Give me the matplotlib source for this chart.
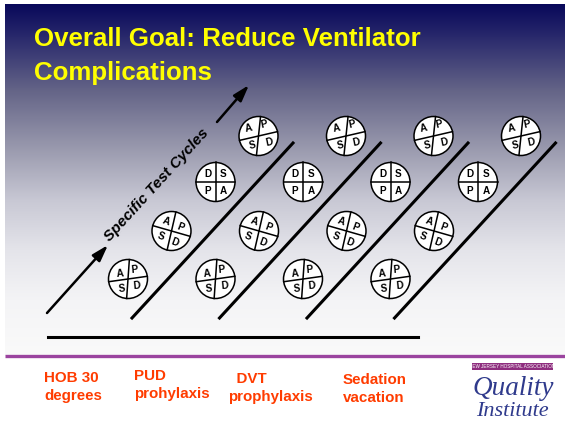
import numpy as np
import matplotlib
matplotlib.use("Agg")
import matplotlib.pyplot as plt
from matplotlib.patches import Circle, Rectangle

# text content
title_lines = ["Overall Goal: Reduce Ventilator", "Complications"]
side_label = "Specific Test Cycles"
interventions = [["HOB 30", "degrees"], ["PUD", "prohylaxis"],
                 ["  DVT", "prophylaxis"], ["Sedation", "vacation"]]
logo_banner = "NEW JERSEY HOSPITAL ASSOCIATION"
logo_words = ["Quality", "Institute"]

# PDSA circles: letters per style, and the style of the 4 circles
# in each column (bottom -> top)
apsd = ["A", "P", "S", "D"]
dspa = ["D", "S", "P", "A"]
column_styles = ["low", "tilt", "flat", "top"]
n_columns = 4

# background gradient key points (y in px, grey level r=g, blue)
grad_y = [4, 40, 90, 150, 200, 250, 300, 356]
grad_rg = [8, 45, 100, 155, 200, 228, 244, 250]
grad_b = [90, 110, 135, 175, 212, 234, 246, 250]

W, H = 565, 423
fig = plt.figure(figsize=(W / 100, H / 100), dpi=100)
ax = fig.add_axes([0, 0, 1, 1])
ax.set_xlim(0, W)
ax.set_ylim(H, 0)
ax.axis("off")

# gradient backdrop
yy = np.arange(grad_y[0], grad_y[-1] + 1)
rg = np.interp(yy, grad_y, grad_rg)
bb = np.interp(yy, grad_y, grad_b)
img = np.stack([rg, rg, bb], axis=1)[:, None, :] / 255.0
ax.imshow(img, extent=[5, W, grad_y[-1], grad_y[0]], aspect="auto",
          interpolation="bilinear", zorder=0)

# title
for i, line in enumerate(title_lines):
    ax.text(34, 46 + 34 * i, line, color="#ffff00", fontsize=18.6,
            fontweight="bold", family="Liberation Sans", va="baseline")

# separator lines
ax.plot([5, W], [356, 356], color="#9b449f", lw=2.4, solid_capstyle="butt")
ax.plot([48, 418], [337, 337], color="black", lw=2.2)

# diagonal lanes
for i in range(n_columns):
    dx = 87.5 * i
    ax.plot([132 + dx, 293 + dx], [318, 143], color="black", lw=2.2)

# left arrows and label
arrow = dict(arrowstyle="-|>,head_length=0.7,head_width=0.22",
             color="black", lw=1.8, mutation_scale=14, shrinkA=0, shrinkB=0)
ax.annotate("", xy=(108, 245), xytext=(47, 313), arrowprops=arrow)
ax.annotate("", xy=(249, 85), xytext=(217, 122), arrowprops=arrow)
ax.text(157, 185, side_label, rotation=47.5, rotation_mode="anchor",
        ha="center", va="center", fontsize=11, fontweight="bold",
        fontstyle="italic", family="Liberation Sans")

# circle styles: divider tilts, letter offsets, letter rotation
styles = {
    "low": dict(letters=apsd, tv=4, th=8, rot=5,
                off=[(-8, -5.7), (6.3, -9), (-6.3, 9.3), (8.7, 6.7)]),
    "tilt": dict(letters=apsd, tv=13, th=-16, rot=-20,
                 off=[(-5, -9.7), (9.3, -3.7), (-10.7, 5.7), (3.3, 11.3)]),
    "flat": dict(letters=dspa, tv=0, th=0, rot=0,
                 off=[(-8, -8), (8, -8), (-8, 8.5), (8, 8.5)]),
    "top": dict(letters=apsd, tv=6, th=13, rot=12,
                off=[(-9.7, -7.3), (5.5, -11.3), (-5.7, 9.3), (10.3, 6)]),
}
step = [(0, 0), (43.5, -48), (87.5, -97), (130.5, -143)]
r = 19.5


def pdsa(cx, cy, st):
    ax.add_patch(Circle((cx, cy), r, facecolor="white", edgecolor="black",
                        lw=1.1, zorder=3))
    tv, th = np.radians(st["tv"]), np.radians(st["th"])
    ax.plot([cx - r * np.sin(tv), cx + r * np.sin(tv)],
            [cy + r * np.cos(tv), cy - r * np.cos(tv)],
            color="black", lw=1.1, zorder=4)
    ax.plot([cx - r * np.cos(th), cx + r * np.cos(th)],
            [cy + r * np.sin(th), cy - r * np.sin(th)],
            color="black", lw=1.1, zorder=4)
    for letter, (ox, oy) in zip(st["letters"], st["off"]):
        ax.text(cx + ox, cy + oy, letter, ha="center", va="center",
                fontsize=7.2, fontweight="bold", rotation=st["rot"],
                family="Liberation Sans", zorder=5)


for c in range(n_columns):
    for (sx, sy), name in zip(step, column_styles):
        pdsa(128 + 87.5 * c + sx, 279 + sy, styles[name])

# intervention labels
label_x = [44, 134, 228, 343]
label_y = [382, 380, 383, 384]
for (l1, l2), x, y in zip(interventions, label_x, label_y):
    ax.text(x, y, l1, color="#ff3c00", fontsize=10.9, fontweight="bold",
            family="Liberation Sans", va="baseline")
    ax.text(x, y + 18, l2, color="#ff3c00", fontsize=10.9,
            fontweight="bold", family="Liberation Sans", va="baseline")

# logo
ax.add_patch(Rectangle((472, 363), 81, 7, facecolor="#8e2d7e", lw=0))
ax.text(512.5, 366.5, logo_banner, color="white", fontsize=3.3,
        ha="center", va="center", family="Liberation Sans")
ax.text(473, 395, logo_words[0], color="#2f3a8c", fontsize=19.5,
        fontstyle="italic", family="Liberation Serif", va="baseline")
ax.text(476, 416, logo_words[1], color="#2f3a8c", fontsize=16,
        fontstyle="italic", family="Liberation Serif", va="baseline")

fig.savefig("out.png", dpi=100)
